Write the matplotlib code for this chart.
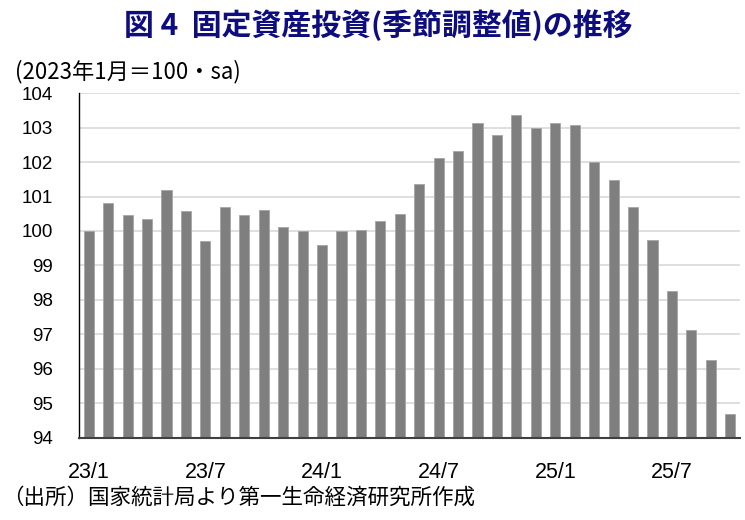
import matplotlib
matplotlib.use("Agg")
import matplotlib.pyplot as plt
import numpy as np

plt.rcParams['font.family'] = ['Liberation Sans', 'Noto Sans CJK JP', 'DejaVu Sans']

months = [f"{y}/{m}" for y in (23, 24, 25) for m in range(1, 13)][:34]
values = [100.00, 100.82, 100.46, 100.34, 101.19, 100.58, 99.70, 100.70, 100.46, 100.61,
          100.13, 100.00, 99.58, 100.00, 100.03, 100.28, 100.49, 101.37, 102.13, 102.32,
          103.13, 102.80, 103.38, 102.99, 103.13, 103.07, 102.01, 101.47, 100.70, 99.73,
          98.25, 97.11, 96.24, 94.69]
yticks = [94, 95, 96, 97, 98, 99, 100, 101, 102, 103, 104]
xtick_labels = ["23/1", "23/7", "24/1", "24/7", "25/1", "25/7"]

title = "図 4  固定資産投資(季節調整値)の推移"
unit = "(2023年1月＝100・sa)"
source = "（出所）国家統計局より第一生命経済研究所作成"

fig = plt.figure(figsize=(7.45, 5.2), dpi=100)
ax = fig.add_axes([79/745, 1-437.5/520, (740-79)/745, (437.5-93.3)/520])

x = np.arange(len(values))
base = yticks[0]
ax.bar(x, np.array(values) - base, bottom=base, width=0.52, color='#7f7f7f',
       edgecolor='#a6a6a6', linewidth=0.6, zorder=3)

ax.set_xlim(-0.5, len(values) - 0.5)
ax.set_ylim(yticks[0], yticks[-1])
ax.set_yticks(yticks)
ax.set_yticklabels([str(v) for v in yticks], fontsize=13.5)
pos = [months.index(l) for l in xtick_labels]
ax.set_xticks(pos)
ax.set_xticklabels(xtick_labels, fontsize=15.5)
ax.tick_params(axis='both', length=0)
ax.tick_params(axis='y', pad=19)
ax.tick_params(axis='x', pad=18)
ax.grid(axis='y', color='#d9d9d9', linewidth=1.2, zorder=0)
ax.set_axisbelow(True)
for s in ['top', 'right']:
    ax.spines[s].set_visible(False)
ax.spines['left'].set_color('black')
ax.spines['left'].set_linewidth(1.0)
ax.spines['bottom'].set_color('#404040')
ax.spines['bottom'].set_linewidth(1.5)
ax.spines['bottom'].set_zorder(4)

fig.text(378/745, 1-25/520, title, ha='center', va='center', fontsize=21.5,
         fontweight='bold', color='#0d0d80', family=['Noto Sans CJK JP', 'DejaVu Sans'])
fig.text(15/745, 1-72/520, unit, ha='left', va='center', fontsize=16,
         family=['Noto Sans CJK JP', 'DejaVu Sans'])
fig.text(2/745, 1-498/520, source, ha='left', va='center', fontsize=15.5,
         family=['Noto Sans CJK JP', 'DejaVu Sans'])

fig.savefig("out.png", dpi=100)
